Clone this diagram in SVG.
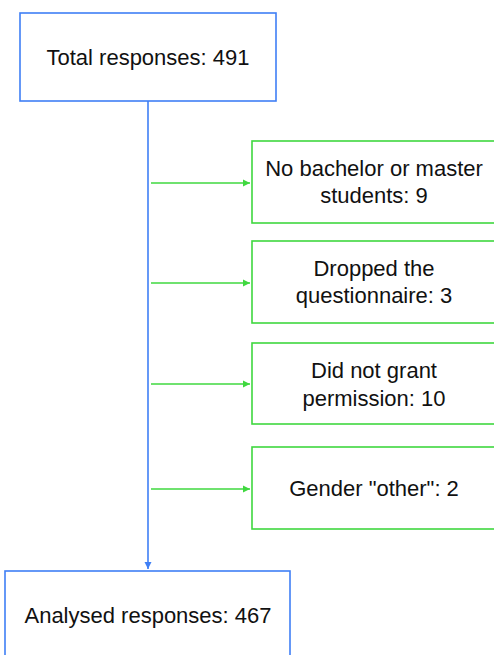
<svg xmlns="http://www.w3.org/2000/svg" width="494" height="655" viewBox="0 0 494 655">
<style>
.blue{fill:#fff;stroke:#3f7ff5;stroke-width:1.6}
.green{fill:#fff;stroke:#3fd83f;stroke-width:1.6}
text{font-family:"Liberation Sans",Arial,sans-serif;font-size:22px;fill:#111;text-anchor:middle}
.bl{stroke:#3f7ff5;stroke-width:1.6;fill:none}
.gl{stroke:#3fd83f;stroke-width:1.3;fill:none}
</style>
<defs>
<marker id="ab" markerWidth="8" markerHeight="8" refX="7" refY="4" orient="auto" markerUnits="userSpaceOnUse"><path d="M0,0.5 L7,4 L0,7.5 Z" fill="#3f7ff5"/></marker>
<marker id="ag" markerWidth="8" markerHeight="8" refX="7" refY="4" orient="auto" markerUnits="userSpaceOnUse"><path d="M0,0.5 L7,4 L0,7.5 Z" fill="#3fd83f"/></marker>
</defs>
<g id="connectors">
<line class="bl" x1="148" y1="101" x2="148" y2="569" marker-end="url(#ab)"/>
<line class="gl" x1="151" y1="183" x2="250" y2="183" marker-end="url(#ag)"/>
<line class="gl" x1="151" y1="283" x2="250" y2="283" marker-end="url(#ag)"/>
<line class="gl" x1="151" y1="384" x2="250" y2="384" marker-end="url(#ag)"/>
<line class="gl" x1="151" y1="489" x2="250" y2="489" marker-end="url(#ag)"/>
</g>
<g id="total">
<rect class="blue" x="20" y="13" width="256" height="88"/>
<text x="148" y="65">Total responses: 491</text>
</g>
<g id="excl1">
<rect class="green" x="252" y="141" width="250" height="82"/>
<text x="374" y="176">No bachelor or master</text>
<text x="374" y="203">students: 9</text>
</g>
<g id="excl2">
<rect class="green" x="252" y="241" width="250" height="82"/>
<text x="374" y="276">Dropped the</text>
<text x="374" y="303">questionnaire: 3</text>
</g>
<g id="excl3">
<rect class="green" x="252" y="343" width="250" height="81"/>
<text x="374" y="378">Did not grant</text>
<text x="374" y="406">permission: 10</text>
</g>
<g id="excl4">
<rect class="green" x="252" y="447" width="250" height="82"/>
<text x="374" y="496">Gender "other": 2</text>
</g>
<g id="analysed">
<rect class="blue" x="5" y="571" width="285" height="100"/>
<text x="148" y="623">Analysed responses: 467</text>
</g>
</svg>
